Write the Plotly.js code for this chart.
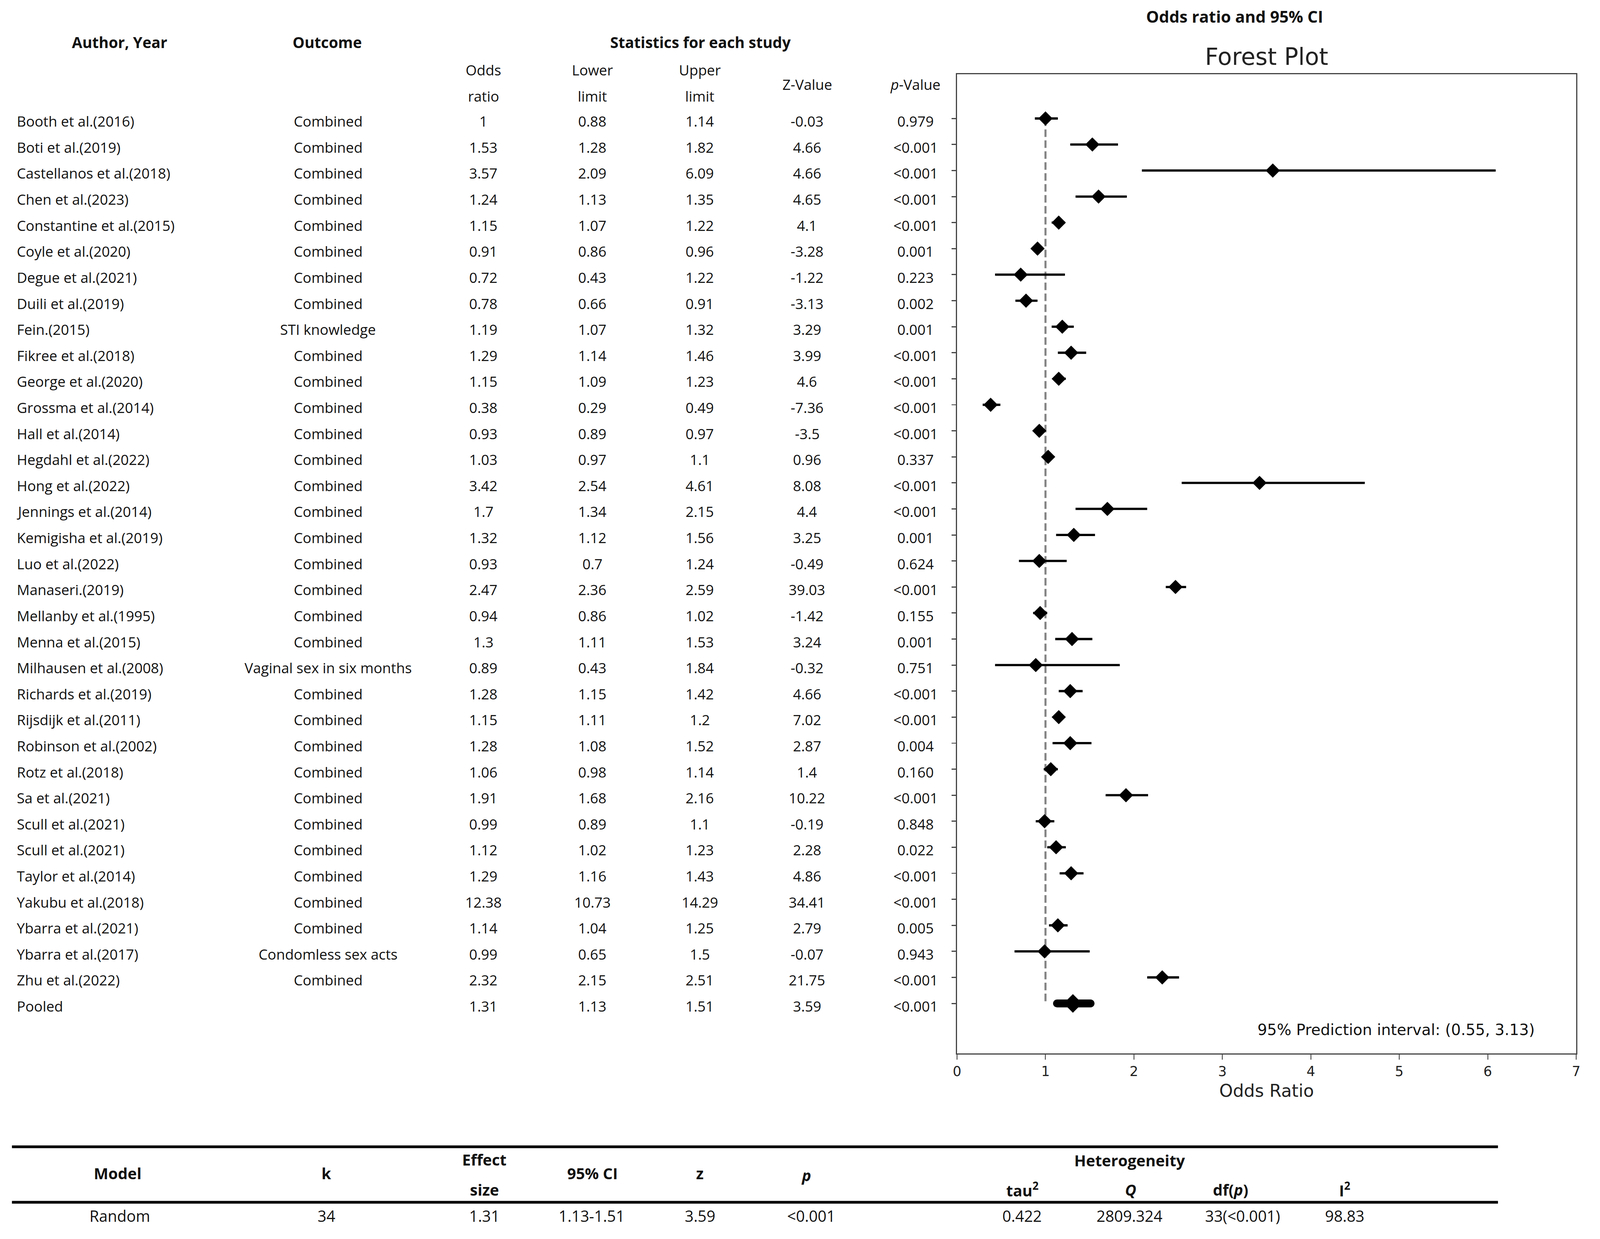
<!DOCTYPE html>
<html>
<head>
<meta charset="utf-8">
<script src="https://cdn.plot.ly/plotly-3.0.1.min.js"></script>
<style>
html,body{margin:0;padding:0;background:#ffffff;overflow:hidden;}
#chart{position:absolute;left:0;top:0;}
</style>
</head>
<body>
<div id="chart"></div>
<script>
// ---------------- DATA ----------------
const authors = ["Booth et al.(2016)","Boti et al.(2019)","Castellanos et al.(2018)","Chen et al.(2023)",
  "Constantine et al.(2015)","Coyle et al.(2020)","Degue et al.(2021)","Duili et al.(2019)","Fein.(2015)",
  "Fikree et al.(2018)","George et al.(2020)","Grossma et al.(2014)","Hall et al.(2014)","Hegdahl et al.(2022)",
  "Hong et al.(2022)","Jennings et al.(2014)","Kemigisha et al.(2019)","Luo et al.(2022)","Manaseri.(2019)",
  "Mellanby et al.(1995)","Menna et al.(2015)","Milhausen et al.(2008)","Richards et al.(2019)",
  "Rijsdijk et al.(2011)","Robinson et al.(2002)","Rotz et al.(2018)","Sa et al.(2021)","Scull et al.(2021)",
  "Scull et al.(2021)","Taylor et al.(2014)","Yakubu et al.(2018)","Ybarra et al.(2021)","Ybarra et al.(2017)",
  "Zhu et al.(2022)"];
const outcomes = ["Combined","Combined","Combined","Combined","Combined","Combined","Combined","Combined",
  "STI knowledge","Combined","Combined","Combined","Combined","Combined","Combined","Combined","Combined",
  "Combined","Combined","Combined","Combined","Vaginal sex in six months","Combined","Combined","Combined",
  "Combined","Combined","Combined","Combined","Combined","Combined","Combined","Condomless sex acts","Combined"];
const oddsRatio = [1,1.53,3.57,1.24,1.15,0.91,0.72,0.78,1.19,1.29,1.15,0.38,0.93,1.03,3.42,1.7,1.32,0.93,2.47,
  0.94,1.3,0.89,1.28,1.15,1.28,1.06,1.91,0.99,1.12,1.29,12.38,1.14,0.99,2.32];
const lowerLimit = [0.88,1.28,2.09,1.13,1.07,0.86,0.43,0.66,1.07,1.14,1.09,0.29,0.89,0.97,2.54,1.34,1.12,0.7,2.36,
  0.86,1.11,0.43,1.15,1.11,1.08,0.98,1.68,0.89,1.02,1.16,10.73,1.04,0.65,2.15];
const upperLimit = [1.14,1.82,6.09,1.35,1.22,0.96,1.22,0.91,1.32,1.46,1.23,0.49,0.97,1.1,4.61,2.15,1.56,1.24,2.59,
  1.02,1.53,1.84,1.42,1.2,1.52,1.14,2.16,1.1,1.23,1.43,14.29,1.25,1.5,2.51];
const zValue = [-0.03,4.66,4.66,4.65,4.1,-3.28,-1.22,-3.13,3.29,3.99,4.6,-7.36,-3.5,0.96,8.08,4.4,3.25,-0.49,39.03,
  -1.42,3.24,-0.32,4.66,7.02,2.87,1.4,10.22,-0.19,2.28,4.86,34.41,2.79,-0.07,21.75];
const pValue = ["0.979","<0.001","<0.001","<0.001","<0.001","0.001","0.223","0.002","0.001","<0.001","<0.001",
  "<0.001","<0.001","0.337","<0.001","<0.001","0.001","0.624","<0.001","0.155","0.001","0.751","<0.001","<0.001",
  "0.004","0.160","<0.001","0.848","0.022","<0.001","<0.001","0.005","0.943","<0.001"];

// Marks as drawn in the forest plot (identical to the table except the Chen et al. row)
const plotOR = [1,1.53,3.57,1.60,1.15,0.91,0.72,0.78,1.19,1.29,1.15,0.38,0.93,1.03,3.42,1.7,1.32,0.93,2.47,
  0.94,1.3,0.89,1.28,1.15,1.28,1.06,1.91,0.99,1.12,1.29,12.38,1.14,0.99,2.32];
const plotLower = [0.88,1.28,2.09,1.34,1.07,0.86,0.43,0.66,1.07,1.14,1.09,0.29,0.89,0.97,2.54,1.34,1.12,0.7,2.36,
  0.86,1.11,0.43,1.15,1.11,1.08,0.98,1.68,0.89,1.02,1.16,10.73,1.04,0.65,2.15];
const plotUpper = [1.14,1.82,6.09,1.92,1.22,0.96,1.22,0.91,1.32,1.46,1.23,0.49,0.97,1.1,4.61,2.15,1.56,1.24,2.59,
  1.02,1.53,1.84,1.42,1.2,1.52,1.14,2.16,1.1,1.23,1.43,14.29,1.25,1.5,2.51];

const pooledLabel = ["Pooled"];
const pooledOR = [1.31];
const pooledLower = [1.13];
const pooledUpper = [1.51];
const pooledZ = [3.59];
const pooledP = ["<0.001"];
const referenceOR = [1];
const predictionInterval = [0.55, 3.13];
const xTickVals = [0,1,2,3,4,5,6,7];

const summaryHeaders = ["<b>Model</b>","<b>k</b>","<b>95% CI</b>","<b>z</b>","<b><i>p</i></b>"];
const summaryHeaders2 = ["<b>tau<sup>2</sup></b>","<b><i>Q</i></b>","<b>df(<i>p</i>)</b>","<b>I<sup>2</sup></b>"];
const summaryRow = ["Random","34","1.31","1.13-1.51","3.59","<0.001","0.422","2809.324","33(<0.001)","98.83"];

// ---------------- LAYOUT GEOMETRY (design pixels, fitted to the viewport) ----------------
const FIG_W = 4400, FIG_H = 3171;
const vw = window.innerWidth || document.documentElement.clientWidth || FIG_W;
const vh = window.innerHeight || document.documentElement.clientHeight || FIG_H;
const SX = vw / FIG_W, SY = vh / FIG_H;
const SF = (SX + SY) / 2;           // scale for fonts, markers and strokes
const f = v => v * SF;

const PL = 2632, PR = 4334, PT = 190, PB = 2696;
const px = v => (v - PL) / (PR - PL);
const py = v => (PB - v) / (PB - PT);

const TXT = "Open Sans, Noto Sans, sans-serif";
const PLT = "DejaVu Sans, sans-serif";
const INK = "#111111";

const colAuthor = 45, colOutcome = 903, colOR = 1330, colLow = 1630, colUp = 1925, colZ = 2220, colP = 2518;
const bodySize = 38, headSize = 40;

const nStudies = authors.length;
const rows = authors.map((_, i) => i);
const pooledRow = [nStudies];

// ---------------- TRACES ----------------
const traces = [
  { // reference line
    x: [referenceOR[0], referenceOR[0]], y: [0, pooledRow[0]], mode: "lines",
    line: {color: "#858585", width: f(5.5), dash: f(20) + "px," + f(9) + "px"}, hoverinfo: "skip", showlegend: false
  },
  { // studies
    x: plotOR, y: rows, mode: "markers", type: "scatter",
    marker: {symbol: "diamond", size: f(29), color: "#000000"},
    error_x: {type: "data", symmetric: false,
      array: plotUpper.map((u, i) => u - plotOR[i]),
      arrayminus: plotOR.map((o, i) => o - plotLower[i]),
      color: "#000000", thickness: f(6), width: 0},
    cliponaxis: true, hoverinfo: "skip", showlegend: false
  },
  { // pooled
    x: pooledOR, y: pooledRow, mode: "markers", type: "scatter",
    marker: {symbol: "diamond", size: f(38), color: "#000000"},
    error_x: {type: "data", symmetric: false,
      array: [pooledUpper[0] - pooledOR[0]], arrayminus: [pooledOR[0] - pooledLower[0]],
      color: "#000000", thickness: f(21), width: 0},
    hoverinfo: "skip", showlegend: false
  }
];

// ---------------- ANNOTATIONS ----------------
const ann = [];
function addRowText(i, txt, x, anchor) {
  ann.push({text: txt, xref: "paper", yref: "y", x: px(x), y: i, xanchor: anchor, yanchor: "middle",
    yshift: -7 * SY, showarrow: false, font: {family: TXT, size: f(bodySize), color: INK}});
}
rows.forEach(i => {
  addRowText(i, authors[i], colAuthor, "left");
  addRowText(i, outcomes[i], colOutcome, "center");
  addRowText(i, String(oddsRatio[i]), colOR, "center");
  addRowText(i, String(lowerLimit[i]), colLow, "center");
  addRowText(i, String(upperLimit[i]), colUp, "center");
  addRowText(i, String(zValue[i]), colZ, "center");
  addRowText(i, pValue[i], colP, "center");
});
addRowText(pooledRow[0], pooledLabel[0], colAuthor, "left");
addRowText(pooledRow[0], String(pooledOR[0]), colOR, "center");
addRowText(pooledRow[0], String(pooledLower[0]), colLow, "center");
addRowText(pooledRow[0], String(pooledUpper[0]), colUp, "center");
addRowText(pooledRow[0], String(pooledZ[0]), colZ, "center");
addRowText(pooledRow[0], pooledP[0], colP, "center");

function addPaperText(txt, x, y, size, fam, anchor) {
  ann.push({text: txt, xref: "paper", yref: "paper", x: px(x), y: py(y), xanchor: anchor || "center",
    yanchor: "middle", showarrow: false, font: {family: fam || TXT, size: f(size), color: INK}});
}
// column headers
addPaperText("<b>Author, Year</b>", 330, 108, headSize);
addPaperText("<b>Outcome</b>", 900, 108, headSize);
addPaperText("<b>Statistics for each study</b>", 1927, 108, headSize);
addPaperText("<b>Odds ratio and 95% CI</b>", 3395, 42, 43);
addPaperText("Odds", colOR, 179, bodySize);
addPaperText("ratio", colOR, 246, bodySize);
addPaperText("Lower", colLow, 179, bodySize);
addPaperText("limit", colLow, 246, bodySize);
addPaperText("Upper", colUp, 179, bodySize);
addPaperText("limit", colUp, 246, bodySize);
addPaperText("Z-Value", colZ, 216, bodySize);
addPaperText("<i>p</i>-Value", colP, 216, bodySize);

// prediction interval
addPaperText("95% Prediction interval: (" + predictionInterval[0] + ", " + predictionInterval[1] + ")",
  4222, 2635, 40.5, PLT, "right");

// summary table
const sumSize = 41;
const sumTopY = 3003;
addPaperText(summaryHeaders[0], 324, sumTopY, sumSize);
addPaperText(summaryHeaders[1], 898, sumTopY, sumSize);
addPaperText("<b>Effect</b>", 1333, 2968, sumSize);
addPaperText("<b>size</b>", 1333, 3045, sumSize);
addPaperText(summaryHeaders[2], 1630, sumTopY, sumSize);
addPaperText(summaryHeaders[3], 1925, sumTopY, sumSize);
addPaperText(summaryHeaders[4], 2217, 3008, sumSize);
addPaperText("<b>Heterogeneity</b>", 3107, 2970, sumSize);
const hetX = [2812, 3109, 3384, 3698];
summaryHeaders2.forEach((h, i) => addPaperText(h, hetX[i], 3045, sumSize));
const sumX = [330, 898, 1333, 1627, 1925, 2231, 2811, 3106, 3417, 3698];
summaryRow.forEach((v, i) => addPaperText(v, sumX[i], 3112, sumSize));

const shapes = [
  {type: "line", xref: "paper", yref: "paper", x0: px(34), x1: px(4119), y0: py(2935), y1: py(2935),
    line: {color: "#000000", width: 7 * SY}},
  {type: "line", xref: "paper", yref: "paper", x0: px(34), x1: px(4119), y0: py(3077), y1: py(3077),
    line: {color: "#000000", width: 7 * SY}}
];

const layout = {
  width: vw, height: vh,
  margin: {l: PL * SX, r: (FIG_W - PR) * SX, t: PT * SY, b: (FIG_H - PB) * SY, pad: 0},
  paper_bgcolor: "#ffffff", plot_bgcolor: "#ffffff",
  showlegend: false,
  title: {text: "Forest Plot", font: {family: PLT, size: f(62), color: "#222222"},
    x: 0.5, xref: "paper", xanchor: "center", y: 1 - 145 / FIG_H, yref: "container", yanchor: "middle"},
  xaxis: {
    range: [0, 7], tickvals: xTickVals, ticktext: xTickVals.map(String),
    ticks: "outside", ticklen: 13 * SY, tickwidth: f(2), tickcolor: "#333333",
    showline: true, mirror: true, linecolor: "#444444", linewidth: f(3),
    showgrid: false, zeroline: false,
    tickfont: {family: PLT, size: f(36), color: "#222222"},
    title: {text: "Odds Ratio", font: {family: PLT, size: f(46), color: "#222222"}, standoff: 16 * SY}
  },
  yaxis: {
    range: [35.92, -1.70], tickvals: rows.concat(pooledRow), showticklabels: false,
    ticks: "outside", ticklen: 12 * SX, tickwidth: f(3), tickcolor: "#444444",
    showline: true, mirror: true, linecolor: "#444444", linewidth: f(3),
    showgrid: false, zeroline: false
  },
  annotations: ann,
  shapes: shapes
};

Plotly.newPlot("chart", traces, layout, {displayModeBar: false, staticPlot: true}).then(() => {
  // rounded ends on the pooled-estimate bar, as in the reference
  const tr = document.querySelectorAll(".scatterlayer .trace");
  if (tr.length > 2) {
    tr[2].querySelectorAll(".errorbar path").forEach(p => { p.style.strokeLinecap = "round"; });
  }
});
</script>
</body>
</html>
